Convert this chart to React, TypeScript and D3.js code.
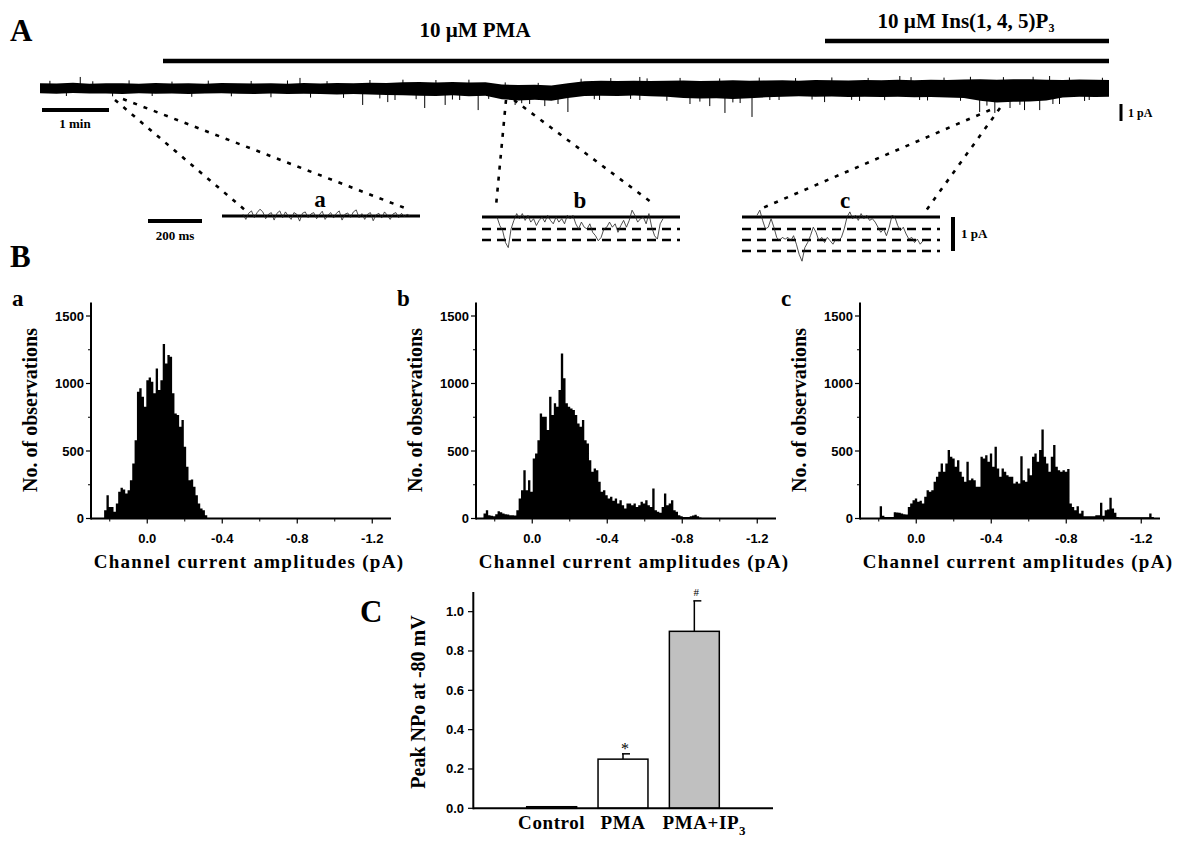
import React from 'react';
import * as d3 from 'd3';

// ---------- Panel A : long recording (envelope) ----------
const traceStep = 0.25; // min between envelope samples
const traceEnd = 16.2; // min
const traceTop = [0.30,0.28,0.33,0.27,0.30,0.29,0.26,0.31,0.28,0.30,0.27,0.32,0.29,0.28,0.30,0.27,0.31,0.28,0.32,0.30,0.33,0.31,0.36,0.38,0.35,0.37,0.34,0.36,0.22,0.18,0.20,0.16,0.30,0.42,0.45,0.43,0.46,0.44,0.45,0.47,0.44,0.46,0.48,0.45,0.47,0.48,0.46,0.50,0.48,0.47,0.50,0.49,0.51,0.48,0.52,0.50,0.53,0.55,0.52,0.54,0.55,0.52,0.50,0.53,0.51,0.50];
const traceBottom = [-0.33,-0.36,-0.31,-0.35,-0.34,-0.38,-0.33,-0.36,-0.34,-0.37,-0.35,-0.33,-0.36,-0.38,-0.35,-0.37,-0.36,-0.38,-0.40,-0.37,-0.41,-0.43,-0.45,-0.48,-0.50,-0.46,-0.52,-0.49,-0.70,-0.78,-0.74,-0.80,-0.62,-0.50,-0.48,-0.50,-0.47,-0.52,-0.55,-0.62,-0.66,-0.64,-0.68,-0.64,-0.58,-0.55,-0.52,-0.55,-0.53,-0.56,-0.54,-0.57,-0.55,-0.58,-0.56,-0.60,-0.62,-0.80,-0.90,-0.86,-0.84,-0.78,-0.60,-0.55,-0.57,-0.55];
// large excursions
const spikeTimes = [0.61,3.94,4.89,5.27,5.38,5.83,6.14,6.36,6.64,7.20,7.42,7.65,8.0,8.48,9.09,9.09,9.85,10.15,10.38,10.61,10.79,11.06,11.89,12.42,13.03,13.33,14.24,14.47,14.70,14.92,15.15,15.3,15.45,15.83];
const spikeValues = [0.69,0.63,-1.06,-0.88,-0.75,-1.25,-1.06,-0.75,-1.38,-1.06,-1.0,-1.13,-1.5,-0.75,-0.75,0.69,-1.0,-1.13,-1.56,-0.94,-1.81,-0.75,-0.88,-0.81,0.75,-0.75,-1.5,-1.56,-1.25,-1.38,-1.38,0.75,-1.0,-0.81];
// small hairs on the edges of the noise band
const hairTimes = [0.15,0.4,0.8,1.1,1.35,1.7,2.0,2.3,2.55,2.9,3.2,3.5,3.75,4.1,4.35,4.6,5.0,5.15,5.5,5.7,6.0,6.25,6.5,6.8,7.05,7.3,7.55,7.85,8.2,8.4,8.65,8.95,9.2,9.5,9.7,10.0,10.3,10.5,10.9,11.2,11.45,11.7,12.0,12.3,12.55,12.8,13.2,13.45,13.7,13.95,14.1,14.35,14.6,14.85,15.05,15.35,15.6,15.9,16.1];
const hairValues = [0.45,-0.5,0.42,-0.52,0.48,-0.5,0.4,-0.55,0.46,-0.52,0.44,-0.58,0.47,-0.6,0.43,-0.62,0.5,-0.65,0.52,-0.7,0.5,-0.72,0.52,-0.68,0.35,-0.95,0.32,-1.0,0.58,-0.7,0.62,-0.68,0.6,-0.8,0.63,-0.85,0.6,-0.9,0.65,-0.75,0.62,-0.72,0.66,-0.74,0.63,-0.76,0.68,-0.78,0.65,-0.8,0.7,-1.1,0.68,-1.05,0.7,-1.0,0.66,-0.75,0.64];

// ---------- Expanded sweeps a, b, c (pA) ----------
const sweepA = [0.05,-0.1,0.08,0.15,-0.05,0.1,0.2,0.12,-0.08,0.05,0.1,-0.12,0.08,0.15,-0.05,0.12,0.0,-0.1,0.1,0.05,-0.15,0.08,0.12,-0.05,0.06,0.1,-0.08,0.04,0.14,-0.1,0.02,0.1,-0.06,0.08,0.15,-0.12,0.05,0.09,-0.04,0.12,0.18,-0.05,0.07,-0.1,0.05,0.1,-0.14,0.03,0.08,-0.06,0.12,0.02,-0.1,0.06,0.1,-0.05,0.08,-0.02,0.05,0.0];
const sweepB = [0,-0.25,-0.4,-0.75,-0.9,-0.35,-0.1,0.1,-0.05,0.1,-0.1,0.05,-0.15,-0.05,-0.25,-0.1,0.0,-0.15,0.05,-0.1,-0.2,0.0,-0.15,-0.05,-0.2,0.05,-0.05,0.05,-0.2,-0.35,-0.15,-0.3,-0.35,-0.2,-0.45,-0.55,-0.7,-0.6,-0.35,-0.3,-0.15,-0.3,-0.2,-0.45,-0.25,-0.1,-0.3,-0.1,0.2,0.05,-0.15,-0.05,0.0,-0.2,0.1,-0.3,-0.55,-0.65,-0.2,-0.05];
const sweepC = [0.05,0.2,-0.1,-0.35,-0.3,-0.05,-0.3,-0.6,-0.7,-0.6,-0.65,-0.6,-0.7,-0.55,-0.8,-1.1,-1.3,-0.9,-0.75,-0.55,-0.3,-0.45,-0.7,-0.6,-0.75,-0.6,-0.7,-0.8,-0.65,-0.7,-0.6,-0.35,0.0,0.15,-0.05,0.05,-0.1,0.1,-0.05,0.05,-0.1,-0.05,-0.15,-0.3,-0.45,-0.35,-0.55,-0.3,0.05,0.0,-0.25,-0.4,-0.3,-0.5,-0.65,-0.6,-0.75,-0.65,-0.8,-0.7];
const levelsB = [-0.35, -0.68];
const levelsC = [-0.35, -0.68, -1.0];

// ---------- Panel B : amplitude histograms ----------
const binWidth = 0.0125; // pA
const histStartA = 0.23;
const countsA = [62,173,86,86,50,111,198,227,215,185,210,284,408,580,939,964,902,828,1025,1045,1013,927,1112,951,1025,1292,1149,1211,1198,927,778,766,680,729,531,383,284,289,235,173,111,74,62,25];
const histStartB = 0.26;
const countsB = [37,62,25,20,17,32,54,47,37,32,30,25,25,22,62,148,210,358,210,284,198,445,482,580,778,754,754,655,902,766,853,828,951,1223,1038,853,828,815,803,766,704,680,729,580,556,432,346,371,358,272,198,210,173,148,161,131,148,111,136,99,74,111,111,99,111,86,99,124,111,136,99,86,222,62,50,42,86,185,99,111,136,62,50,25,17,12,12,12,17,22,27,17,7];
const histStartC = 0.195;
const countsC = [91,20,12,12,12,12,47,44,42,37,32,30,86,111,136,148,124,131,111,161,210,198,210,272,309,346,408,346,408,507,457,445,383,432,346,309,272,420,284,297,284,235,235,457,445,469,420,482,383,531,371,309,371,346,321,309,309,259,272,259,462,284,272,371,321,457,482,420,507,660,457,408,346,457,544,383,358,346,358,346,366,111,86,62,91,37,57,17,17,17,17,17,25,25,116,20,62,67,153,74,42,12,10,10,10,10,10,10,10,10,10,10,10,10,10,37,12];
const histXTicks = [0, -0.4, -0.8, -1.2];
const histXMinor = [0.2, -0.2, -0.6, -1.0];
const histYTicks = [0, 500, 1000, 1500];
const histYMinor = [250, 750, 1250];

// ---------- Panel C : peak NPo ----------
const groups = ['Control', 'PMA', 'PMA+IP3'];
const npoMean = [0.008, 0.25, 0.9];
const npoSE = [0.0, 0.027, 0.155];
const npoFill = ['#ffffff', '#ffffff', '#c0c0c0'];
const npoMarks = ['', '*', '#'];
const npoTicks = [0, 0.2, 0.4, 0.6, 0.8, 1.0];

const SERIF = "'Liberation Serif', 'Times New Roman', serif";
const SANS = "'Liberation Sans', Arial, sans-serif";

function Trace() {
  const x = d3.scaleLinear().domain([0, traceEnd]).range([40, 1109]);
  const y = d3.scaleLinear().domain([-1, 1]).range([88 + 16, 88 - 16]);
  const t = traceTop.map((_, i) => Math.min(i * traceStep, traceEnd));
  const area = d3.area<number>()
    .x((_, i) => x(t[i]))
    .y0((_, i) => y(traceBottom[i]))
    .y1((_, i) => y(traceTop[i]));
  return (
    <g>
      <path d={area(traceTop) || ''} fill="#000" />
      {hairTimes.map((s, i) => (
        <line key={'h' + i} x1={x(s)} x2={x(s)} y1={y(0)} y2={y(hairValues[i])} stroke="#000" strokeWidth={1} />
      ))}
      {spikeTimes.map((s, i) => (
        <line key={i} x1={x(s)} x2={x(s)} y1={y(0)} y2={y(spikeValues[i])} stroke="#000" strokeWidth={1} />
      ))}
    </g>
  );
}

function Sweep({ data, x0, x1, x2, x3, base, levels, label, lx }: any) {
  const x = d3.scaleLinear().domain([0, data.length - 1]).range([x2, x3]);
  const y = d3.scaleLinear().domain([-1, 0]).range([base + 34, base]);
  const line = d3.line<number>().x((_, i) => x(i)).y(d => y(d));
  return (
    <g>
      <line x1={x0} x2={x1} y1={base} y2={base} stroke="#000" strokeWidth={3} />
      {levels.map((l: number, i: number) => (
        <line key={i} x1={x0} x2={x1} y1={y(l)} y2={y(l)} stroke="#000" strokeWidth={2.5} strokeDasharray="9,6" />
      ))}
      <path d={line(data) || ''} fill="none" stroke="#222" strokeWidth={0.8} />
      <text x={lx} y={base - 9} fontFamily={SERIF} fontWeight="bold" fontSize={23} textAnchor="middle">{label}</text>
    </g>
  );
}

function Histogram({ x0, start, counts, letter }: any) {
  const xs = d3.scaleLinear().domain([0.3, -1.3]).range([x0, x0 + 300]);
  const ys = d3.scaleLinear().domain([0, 1600]).range([518.5, 302.5]);
  const pts = counts.map((c: number, i: number) => ({ a: start - i * binWidth, c }));
  pts.push({ a: start - counts.length * binWidth, c: 0 });
  const area = d3.area<any>().x(d => xs(d.a)).y0(ys(0)).y1(d => ys(d.c)).curve(d3.curveStepAfter);
  return (
    <g>
      <path d={area(pts) || ''} fill="#000" />
      <line x1={x0} x2={x0 + 300} y1={ys(0)} y2={ys(0)} stroke="#000" strokeWidth={2} />
      <line x1={x0} x2={x0} y1={ys(0) + 1} y2={ys(1600)} stroke="#000" strokeWidth={2} />
      {histXTicks.map(v => (
        <g key={v}>
          <line x1={xs(v)} x2={xs(v)} y1={ys(0)} y2={ys(0) + 5} stroke="#000" strokeWidth={1.2} />
          <text x={xs(v)} y={ys(0) + 24} fontFamily={SANS} fontWeight="bold" fontSize={13} textAnchor="middle">{d3.format('.1f')(v).replace('−', '-')}</text>
        </g>
      ))}
      {histXMinor.map(v => (
        <line key={v} x1={xs(v)} x2={xs(v)} y1={ys(0)} y2={ys(0) + 3} stroke="#000" strokeWidth={1} />
      ))}
      {histYTicks.map(v => (
        <g key={v}>
          <line x1={x0 - 5} x2={x0} y1={ys(v)} y2={ys(v)} stroke="#000" strokeWidth={1.2} />
          <text x={x0 - 7} y={ys(v) + 4.5} fontFamily={SANS} fontWeight="bold" fontSize={13} textAnchor="end">{v}</text>
        </g>
      ))}
      {histYMinor.map(v => (
        <line key={v} x1={x0 - 3} x2={x0} y1={ys(v)} y2={ys(v)} stroke="#000" strokeWidth={1} />
      ))}
      <text transform={`translate(${x0 - 54},${410}) rotate(-90)`} fontFamily={SERIF} fontWeight="bold" fontSize={20} textAnchor="middle">No. of observations</text>
      <text x={x0 + 158} y={568} fontFamily={SERIF} fontWeight="bold" fontSize={19} letterSpacing={1.3} textAnchor="middle">Channel current amplitudes (pA)</text>
      <text x={x0 - 79} y={306} fontFamily={SERIF} fontWeight="bold" fontSize={23}>{letter}</text>
    </g>
  );
}

function BarChart() {
  const x = d3.scaleBand().domain(groups).range([516, 730]).paddingInner(0.3).paddingOuter(0.15);
  const y = d3.scaleLinear().domain([0, 1.1]).range([808.3, 592]);
  return (
    <g>
      {groups.map((g, i) => {
        const bx = x(g) as number;
        const bw = x.bandwidth();
        const cx = bx + bw / 2;
        return (
          <g key={g}>
            {npoSE[i] > 0 && (
              <g>
                <line x1={cx} x2={cx} y1={y(npoMean[i])} y2={y(npoMean[i] + npoSE[i])} stroke="#000" strokeWidth={1.5} />
                <line x1={cx - 1} x2={cx + 7} y1={y(npoMean[i] + npoSE[i])} y2={y(npoMean[i] + npoSE[i])} stroke="#000" strokeWidth={1.5} />
              </g>
            )}
            <rect x={bx} y={y(npoMean[i])} width={bw} height={y(0) - y(npoMean[i])} fill={npoFill[i]} stroke="#000" strokeWidth={1.5} />
            {npoMarks[i] && (
              <text x={cx + 2} y={y(npoMean[i] + npoSE[i]) - (npoMarks[i] === '*' ? 0 : 5)} fontFamily={SERIF} fontSize={npoMarks[i] === '*' ? 16 : 11} textAnchor="middle">{npoMarks[i]}</text>
            )}
          </g>
        );
      })}
      <line x1={473.3} x2={773} y1={y(0)} y2={y(0)} stroke="#000" strokeWidth={2} />
      <line x1={473.3} x2={473.3} y1={y(0) + 1} y2={y(1.1)} stroke="#000" strokeWidth={2} />
      {npoTicks.map(v => (
        <g key={v}>
          <line x1={468} x2={473.3} y1={y(v)} y2={y(v)} stroke="#000" strokeWidth={1.2} />
          <text x={464} y={y(v) + 4.5} fontFamily={SANS} fontWeight="bold" fontSize={13} textAnchor="end">{d3.format('.1f')(v)}</text>
        </g>
      ))}
      <text transform="translate(425,702) rotate(-90)" fontFamily={SERIF} fontWeight="bold" fontSize={20} textAnchor="middle">Peak NPo at -80 mV</text>
      {groups.map((g) => {
        const cx = (x(g) as number) + x.bandwidth() / 2;
        if (g === 'PMA+IP3') {
          return (
            <text key={g} x={cx + 10} y={829} fontFamily={SERIF} fontWeight="bold" fontSize={19} letterSpacing={0.6} textAnchor="middle">PMA+IP<tspan fontSize={13} dy={6}>3</tspan></text>
          );
        }
        return <text key={g} x={cx} y={829} fontFamily={SERIF} fontWeight="bold" fontSize={19} letterSpacing={0.6} textAnchor="middle">{g}</text>;
      })}
      <text x={360} y={622} fontFamily={SERIF} fontWeight="bold" fontSize={31}>C</text>
    </g>
  );
}

export default function App() {
  const dotted = { stroke: '#000', strokeWidth: 2.6, strokeDasharray: '4,7', fill: 'none' };
  return (
    <svg width={1200} height={845} style={{ position: 'absolute', left: 0, top: 0, background: '#fff' }}>
      <rect width={1200} height={845} fill="#fff" />
      {/* Panel A */}
      <text x={10} y={41} fontFamily={SERIF} fontWeight="bold" fontSize={31}>A</text>
      <text x={475} y={37} fontFamily={SERIF} fontWeight="bold" fontSize={21} textAnchor="middle">10 µM PMA</text>
      <text x={966} y={28} fontFamily={SERIF} fontWeight="bold" fontSize={21} textAnchor="middle">10 µM Ins(1, 4, 5)P<tspan fontSize={12} dy={4}>3</tspan></text>
      <line x1={825} x2={1109} y1={41} y2={41} stroke="#000" strokeWidth={4.5} />
      <line x1={163} x2={1109} y1={61} y2={61} stroke="#000" strokeWidth={4.5} />
      <Trace />
      <line x1={42} x2={109} y1={110} y2={110} stroke="#000" strokeWidth={4} />
      <text x={75} y={128} fontFamily={SERIF} fontWeight="bold" fontSize={13} textAnchor="middle">1 min</text>
      <line x1={1121} x2={1121} y1={104} y2={121} stroke="#000" strokeWidth={3} />
      <text x={1128} y={117} fontFamily={SERIF} fontWeight="bold" fontSize={12}>1 pA</text>

      {/* dotted zoom lines */}
      <line x1={115} y1={100} x2={245} y2={210} style={dotted} />
      <line x1={123} y1={99} x2={410} y2={210} style={dotted} />
      <line x1={506} y1={100} x2={496} y2={206} style={dotted} />
      <line x1={514} y1={100} x2={655} y2={205} style={dotted} />
      <line x1={990} y1={110} x2={758} y2={210} style={dotted} />
      <line x1={1000} y1={108} x2={925} y2={212} style={dotted} />

      {/* sweeps */}
      <line x1={148} x2={202} y1={221} y2={221} stroke="#000" strokeWidth={4} />
      <text x={175} y={240} fontFamily={SERIF} fontWeight="bold" fontSize={13} textAnchor="middle">200 ms</text>
      <Sweep data={sweepA} x0={222} x1={420} x2={243} x3={410} base={216} levels={[]} label="a" lx={320} />
      <Sweep data={sweepB} x0={482} x1={680} x2={497} x3={663} base={217} levels={levelsB} label="b" lx={580} />
      <Sweep data={sweepC} x0={742} x1={940} x2={757} x3={923} base={217} levels={levelsC} label="c" lx={845} />
      <line x1={953} x2={953} y1={217} y2={251} stroke="#000" strokeWidth={4} />
      <text x={961} y={238} fontFamily={SERIF} fontWeight="bold" fontSize={13}>1 pA</text>

      {/* Panel B */}
      <text x={10} y={267} fontFamily={SERIF} fontWeight="bold" fontSize={31}>B</text>
      <Histogram x0={91} start={histStartA} counts={countsA} letter="a" />
      <Histogram x0={476} start={histStartB} counts={countsB} letter="b" />
      <Histogram x0={860} start={histStartC} counts={countsC} letter="c" />

      {/* Panel C */}
      <BarChart />
    </svg>
  );
}
